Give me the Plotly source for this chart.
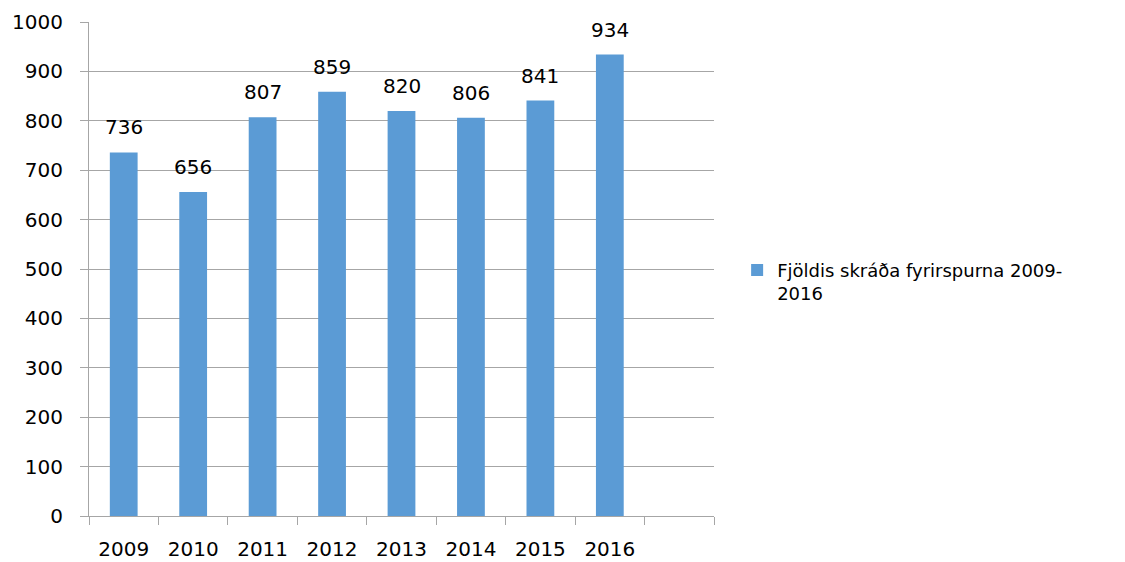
import plotly.graph_objects as go

years = [2009, 2010, 2011, 2012, 2013, 2014, 2015, 2016]
values = [736, 656, 807, 859, 820, 806, 841, 934]
series_name = "Fjöldis skráða fyrirspurna 2009-<br>2016"
y_ticks = [0, 100, 200, 300, 400, 500, 600, 700, 800, 900, 1000]

FONT = "DejaVu Sans"
GRID = "#a6a6a6"
BAR = "#5b9bd5"

fig = go.Figure()
fig.add_trace(go.Bar(
    x=years, y=values, name=series_name,
    marker=dict(color=BAR, line=dict(width=0)),
    width=0.4, showlegend=True,
))

for x, v in zip(years, values):
    fig.add_annotation(x=x, y=v, text=str(v), showarrow=False,
                       yanchor="bottom", yshift=11,
                       font=dict(family=FONT, size=20, color="#000000"))

boundaries = [y - 0.5 for y in years] + [years[-1] + 0.5, years[-1] + 1.5]

# page body has an 8px margin, so the figure is drawn at (8, 8)
fig.update_layout(
    width=1117, height=554,
    margin=dict(l=81, r=411, t=14, b=46, autoexpand=False),
    paper_bgcolor="white", plot_bgcolor="white",
    font=dict(family=FONT, size=20, color="#000000"),
    showlegend=True,
    legend=dict(x=1.037, y=0.474, xanchor="left", yanchor="middle",
                font=dict(family=FONT, size=18, color="#000000"),
                itemwidth=30, valign="top"),
    bargap=0.6,
)

fig.update_xaxes(
    range=[years[0] - 0.5, years[-1] + 1.5],
    tickvals=years, ticktext=[str(y) for y in years],
    ticks="outside", ticklen=8, tickcolor="rgba(0,0,0,0)",
    ticklabelstandoff=7, automargin=False,
    showgrid=False, zeroline=False,
    showline=True, linecolor=GRID, linewidth=1,
    minor=dict(tickvals=boundaries, ticks="outside", ticklen=8,
               tickcolor=GRID, tickwidth=1, showgrid=False),
    tickfont=dict(family=FONT, size=20),
)

fig.update_yaxes(
    range=[0, 1000], tickvals=y_ticks,
    ticks="outside", ticklen=8, tickcolor=GRID, tickwidth=1,
    ticklabelstandoff=13, automargin=False,
    showgrid=True, gridcolor=GRID, gridwidth=1,
    zeroline=False, showline=True, linecolor=GRID, linewidth=1,
    tickfont=dict(family=FONT, size=20),
)

fig.write_html("out.html")
